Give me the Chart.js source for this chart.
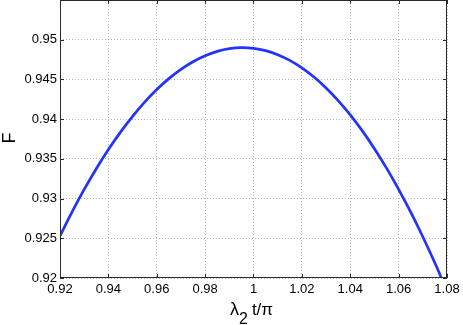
<!DOCTYPE html>
<html>
<head>
<meta charset="utf-8">
<script src="https://cdn.jsdelivr.net/npm/chart.js@4/dist/chart.umd.min.js"></script>
<style>
  html, body { margin: 0; padding: 0; background: #fff; }
  #wrap { width: 463px; height: 325px; position: relative; }
</style>
</head>
<body>
<div id="wrap"><canvas id="fig" width="463" height="325"></canvas></div>
<script>
// values
const lambdaT = [0.920, 0.925, 0.930, 0.935, 0.940, 0.945, 0.950, 0.955, 0.960, 0.965,
                 0.970, 0.975, 0.980, 0.985, 0.990, 0.995, 1.000, 1.005, 1.010, 1.015,
                 1.020, 1.025, 1.030, 1.035, 1.040, 1.045, 1.050, 1.055, 1.060, 1.065,
                 1.070, 1.075, 1.080];
const fidelity = [0.92530, 0.92833, 0.93115, 0.93376, 0.93617, 0.93837, 0.94036, 0.94215, 0.94373, 0.94510,
                  0.94627, 0.94723, 0.94798, 0.94853, 0.94887, 0.94900, 0.94892, 0.94863, 0.94812, 0.94740,
                  0.94645, 0.94530, 0.94393, 0.94234, 0.94054, 0.93852, 0.93628, 0.93383, 0.93117, 0.92829,
                  0.92519, 0.92188, 0.91835];

const xRange = [0.92, 1.08];
const yRange = [0.92, 0.955];
const xTitle = ['λ', '2', 't/π'];
const yTitle = 'F';

const FONT = '"Liberation Sans", Arial, Helvetica, sans-serif';
const fmt = v => String(Number(v.toFixed(3)));

// frame, inward ticks and axis titles (matlab style)
const framePlugin = {
    id: 'frame',
    afterDraw(chart) {
        const ctx = chart.ctx;
        const a = chart.chartArea;
        const xs = chart.scales.x, ys = chart.scales.y;
        ctx.save();
        ctx.strokeStyle = '#2b2b2b';
        ctx.lineWidth = 1;
        ctx.strokeRect(a.left + 0.5, a.top + 0.5, a.right - a.left - 1, a.bottom - a.top - 1);

        ctx.beginPath();
        xs.ticks.forEach(t => {
            const px = Math.round(xs.getPixelForValue(t.value)) + 0.5;
            ctx.moveTo(px, a.bottom); ctx.lineTo(px, a.bottom - 4);
            ctx.moveTo(px, a.top); ctx.lineTo(px, a.top + 4);
        });
        ys.ticks.forEach(t => {
            const py = Math.round(ys.getPixelForValue(t.value)) + 0.5;
            ctx.moveTo(a.left, py); ctx.lineTo(a.left + 4, py);
            ctx.moveTo(a.right, py); ctx.lineTo(a.right - 4, py);
        });
        ctx.stroke();

        // x title with subscript
        ctx.fillStyle = '#000';
        ctx.textAlign = 'left';
        ctx.textBaseline = 'alphabetic';
        let x = 230;
        ctx.font = '18px ' + FONT;
        ctx.fillText(xTitle[0], x, 315);
        x += ctx.measureText(xTitle[0]).width;
        ctx.font = '16px ' + FONT;
        ctx.fillText(xTitle[1], x, 324);
        x += ctx.measureText(xTitle[1]).width + 4;
        ctx.font = '17px ' + FONT;
        ctx.fillText(xTitle[2], x, 315);

        // y title
        ctx.font = '18px ' + FONT;
        ctx.translate(15, 138);
        ctx.rotate(-Math.PI / 2);
        ctx.textAlign = 'center';
        ctx.fillText(yTitle, 0, 0);
        ctx.restore();
    }
};

const gridStyle = {
    color: '#b8b8b8',
    lineWidth: 1,
    drawTicks: false
};

new Chart(document.getElementById('fig'), {
    type: 'line',
    data: {
        datasets: [{
            data: lambdaT.map((x, i) => ({ x: x, y: fidelity[i] })),
            borderColor: '#2233ff',
            borderWidth: 2.7,
            pointRadius: 0,
            tension: 0.4,
            fill: false
        }]
    },
    options: {
        responsive: false,
        animation: false,
        events: [],
        layout: { padding: { top: 0, right: 16, left: 0, bottom: 0 } },
        plugins: { legend: { display: false }, tooltip: { enabled: false } },
        scales: {
            x: {
                type: 'linear',
                min: xRange[0], max: xRange[1],
                grid: gridStyle,
                border: { display: false, dash: [1, 2] },
                ticks: {
                    stepSize: 0.02,
                    color: '#000',
                    padding: 4,
                    maxRotation: 0,
                    font: { family: FONT, size: 13 },
                    callback: v => fmt(v)
                },
                afterFit: s => { s.height = 47; s.paddingLeft = 0; s.paddingRight = 0; }
            },
            y: {
                type: 'linear',
                min: yRange[0], max: yRange[1],
                grid: gridStyle,
                border: { display: false, dash: [1, 2] },
                ticks: {
                    stepSize: 0.005,
                    color: '#000',
                    padding: 3,
                    font: { family: FONT, size: 13 },
                    callback: v => (v > 0.9502 ? '' : fmt(v))
                },
                afterFit: s => { s.width = 60; s.paddingTop = 0; s.paddingBottom = 0; }
            }
        }
    },
    plugins: [framePlugin]
});
</script>
</body>
</html>
